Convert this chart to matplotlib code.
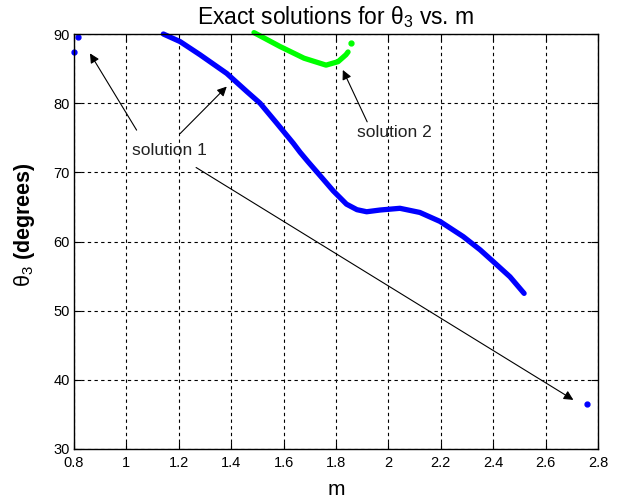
import matplotlib
matplotlib.use("Agg")
import matplotlib.pyplot as plt

plt.rcParams['font.family'] = ['Liberation Sans', 'DejaVu Sans']
plt.rcParams['mathtext.default'] = 'regular'
plt.rcParams['mathtext.fontset'] = 'custom'
plt.rcParams['mathtext.rm'] = 'Liberation Sans'
plt.rcParams['mathtext.it'] = 'Liberation Sans:italic'
plt.rcParams['mathtext.bf'] = 'Liberation Sans:bold'

# Solution 1 (blue) main branch
sol1_m = [1.141, 1.205, 1.281, 1.383, 1.459, 1.51, 1.574, 1.637, 1.663, 1.694, 1.733,
          1.79, 1.84, 1.88, 1.917, 1.968, 2.044, 2.12, 2.197, 2.286, 2.35, 2.40, 2.464, 2.518]
sol1_t = [90.0, 88.9, 87.0, 84.3, 81.7, 80.0, 77.1, 74.2, 72.9, 71.5, 69.8,
          67.3, 65.4, 64.6, 64.3, 64.55, 64.8, 64.2, 62.9, 60.7, 58.8, 57.1, 54.9, 52.5]
# Solution 1 isolated points
sol1_iso_m = [0.80, 0.815, 2.757]
sol1_iso_t = [87.4, 89.5, 36.46]
# Solution 2 (green)
sol2_m = [1.487, 1.586, 1.678, 1.762, 1.808, 1.838, 1.846]
sol2_t = [90.2, 88.2, 86.5, 85.5, 86.0, 87.0, 87.4]
sol2_iso_m = [1.857]
sol2_iso_t = [88.65]

xticks = [0.8, 1, 1.2, 1.4, 1.6, 1.8, 2, 2.2, 2.4, 2.6, 2.8]
xticklabels = ['0.8', '1', '1.2', '1.4', '1.6', '1.8', '2', '2.2', '2.4', '2.6', '2.8']
yticks = [30, 40, 50, 60, 70, 80, 90]

fig = plt.figure(figsize=(6.21, 5.0), dpi=100)
ax = fig.add_axes([74/621, 1-449/500, 524/621, 415/500])

ax.plot(sol1_m, sol1_t, color='#0000ff', lw=3.8, solid_capstyle='round', solid_joinstyle='round', clip_on=False)
ax.plot(sol1_iso_m, sol1_iso_t, '.', color='#0000ff', ms=7, clip_on=False)
ax.plot(sol2_m, sol2_t, color='#00ff00', lw=3.8, solid_capstyle='round', solid_joinstyle='round', clip_on=False)
ax.plot(sol2_iso_m, sol2_iso_t, '.', color='#00ff00', ms=7, clip_on=False)

ax.set_xlim(0.8, 2.8)
ax.set_ylim(30, 90)
ax.set_xticks(xticks)
ax.set_xticklabels(xticklabels)
ax.set_yticks(yticks)
ax.grid(True, color='black', linestyle=(0, (3, 3)), linewidth=0.8)
ax.tick_params(direction='in', top=True, right=True, length=5, labelsize=10.5, width=0.8)
ax.tick_params(axis='x', pad=5)
ax.tick_params(axis='y', pad=3)
for s in ax.spines.values():
    s.set_linewidth(1.0)

ax.set_title(r'Exact solutions for $\theta_3$ vs. m', fontsize=16.5, pad=7)
ax.set_xlabel('m', fontsize=15, labelpad=7)
ax.set_ylabel(r'$\mathrm{\theta_3}$ (degrees)', fontsize=15.5, fontweight='bold')
ax.yaxis.set_label_coords((37 - 74) / 524, (449 - 225) / 415)

arrow = dict(arrowstyle='-|>', color='black', lw=0.8, mutation_scale=14, shrinkA=0, shrinkB=0)
ax.annotate('', xy=(0.861, 87.2), xytext=(1.039, 76.1), arrowprops=arrow)
ax.annotate('', xy=(1.383, 82.4), xytext=(1.205, 75.6), arrowprops=arrow)
ax.annotate('', xy=(2.706, 37.1), xytext=(1.266, 70.7), arrowprops=arrow)
ax.annotate('', xy=(1.826, 84.8), xytext=(1.919, 77.3), arrowprops=arrow)
ax.text(1.02, 73.2, 'solution 1', fontsize=12.5, ha='left', va='center', color='#222222')
ax.text(1.879, 75.7, 'solution 2', fontsize=12.5, ha='left', va='center', color='#222222')

fig.savefig('out.png', dpi=100)
